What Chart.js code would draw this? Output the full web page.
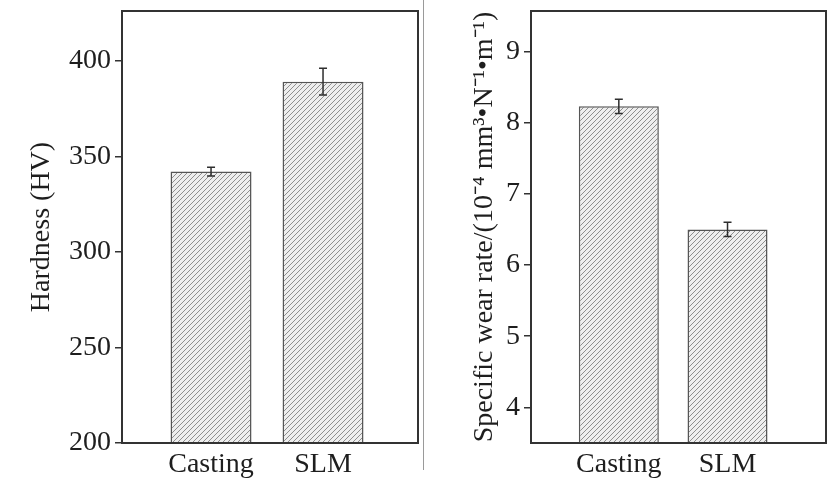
<!DOCTYPE html>
<html>
<head>
<meta charset="utf-8">
<script src="https://cdn.jsdelivr.net/npm/chart.js@4.4.1/dist/chart.umd.min.js"></script>
<style>
  html, body { margin: 0; padding: 0; background: #fff; }
  #wrap { position: relative; width: 834px; height: 478px; }
  #c1 { position: absolute; left: 0; top: 0; }
  #c2 { position: absolute; left: 421px; top: 0; }
  #sep { position: absolute; left: 423px; top: 0; width: 1px; height: 470px; background: #9a9a9a; }
</style>
</head>
<body>
<div id="wrap">
  <canvas id="c1" width="421" height="478"></canvas>
  <canvas id="c2" width="413" height="478"></canvas>
  <div id="sep"></div>
</div>
<script>
const categories = ['Casting', 'SLM'];

const hardness = [342, 389];
const hardnessErr = [2.3, 7];
const hardnessTicks = [200, 250, 300, 350, 400];

const wearRate = [8.23, 6.5];
const wearRateErr = [0.1, 0.1];
const wearTicks = [4, 5, 6, 7, 8, 9];

Chart.defaults.font.family = "'Liberation Serif', 'Times New Roman', serif";
Chart.defaults.font.size = 28;
Chart.defaults.color = '#1e1e1e';

// diagonal hatch like the original figure
const makeHatch = (ctx) => {
  const c = document.createElement('canvas');
  c.width = 5;
  c.height = 5;
  const g = c.getContext('2d');
  g.fillStyle = '#eeeeee';
  g.fillRect(0, 0, 5, 5);
  g.strokeStyle = '#8e8e8e';
  g.lineWidth = 1;
  g.beginPath();
  g.moveTo(-1, 6); g.lineTo(6, -1);
  g.moveTo(-1, 1); g.lineTo(1, -1);
  g.moveTo(4, 6); g.lineTo(6, 4);
  g.stroke();
  return ctx.createPattern(c, 'repeat');
};

const framePlugin = {
  id: 'frame',
  afterDatasetsDraw(chart, args, opts) {
    const { ctx, chartArea: a, scales: { y } } = chart;
    const values = opts.values;
    const err = opts.err;
    ctx.save();
    ctx.strokeStyle = '#2e2e2e';
    ctx.lineWidth = 1.5;
    chart.getDatasetMeta(0).data.forEach((bar, i) => {
      const top = y.getPixelForValue(values[i] + err[i]);
      const bot = y.getPixelForValue(values[i] - err[i]);
      ctx.beginPath();
      ctx.moveTo(bar.x, top); ctx.lineTo(bar.x, bot);
      ctx.moveTo(bar.x - 4, top); ctx.lineTo(bar.x + 4, top);
      ctx.moveTo(bar.x - 4, bot); ctx.lineTo(bar.x + 4, bot);
      ctx.stroke();
    });
    ctx.strokeStyle = '#333';
    ctx.lineWidth = 2;
    ctx.strokeRect(a.left, a.top, a.width, a.height);
    ctx.restore();
  }
};

const makeChart = (el, cfg) => {
  const ctx = el.getContext('2d');
  return new Chart(ctx, {
    type: 'bar',
    data: {
      datasets: [{
        data: cfg.values.map((v, i) => ({ x: i, y: v })),
        backgroundColor: makeHatch(ctx),
        borderColor: '#555',
        borderWidth: 1.5,
        borderSkipped: false,
        barPercentage: cfg.barPct,
        categoryPercentage: 1,
      }],
    },
    options: {
      responsive: false,
      animation: false,
      events: [],
      layout: { padding: { top: 11, right: cfg.right, left: 0, bottom: 0 } },
      plugins: {
        legend: { display: false },
        tooltip: { enabled: false },
        frame: { values: cfg.values, err: cfg.err },
      },
      scales: {
        x: {
          type: 'linear',
          offset: false,
          min: cfg.xMin,
          max: cfg.xMax,
          afterBuildTicks: (s) => { s.ticks = categories.map((c, i) => ({ value: i })); },
          afterFit: (s) => { s.height = 35; s.paddingLeft = 0; s.paddingRight = 0; },
          grid: { display: false, offset: false },
          border: { display: false },
          ticks: { callback: (v) => categories[v], padding: -3, maxRotation: 0 },
        },
        y: {
          min: cfg.yMin,
          max: cfg.yMax,
          afterBuildTicks: (s) => { s.ticks = cfg.ticks.map((v) => ({ value: v })); },
          afterFit: (s) => { s.width = cfg.yWidth; s.paddingTop = 0; s.paddingBottom = 0; },
          grid: { drawOnChartArea: false, tickLength: 7, color: '#333', lineWidth: 1.5 },
          border: { display: false },
          ticks: { padding: 4 },
          title: {
            display: true,
            text: cfg.title,
            font: { size: 28, lineHeight: 1 },
            padding: { top: cfg.titlePad, bottom: 0 },
          },
        },
      },
    },
    plugins: [framePlugin],
  });
};

makeChart(document.getElementById('c1'), {
  values: hardness, err: hardnessErr, ticks: hardnessTicks,
  yMin: 200, yMax: 426, xMin: -0.795, xMax: 1.848, barPct: 0.723,
  right: 3, yWidth: 122, titlePad: 28, title: 'Hardness (HV)',
});

makeChart(document.getElementById('c2'), {
  values: wearRate, err: wearRateErr, ticks: wearTicks,
  yMin: 3.5, yMax: 9.57, xMin: -0.808, xMax: 1.906, barPct: 0.736,
  right: 8, yWidth: 110, titlePad: 50, title: 'Specific wear rate/(10⁻⁴ mm³•N⁻¹•m⁻¹)',
});
</script>
</body>
</html>
